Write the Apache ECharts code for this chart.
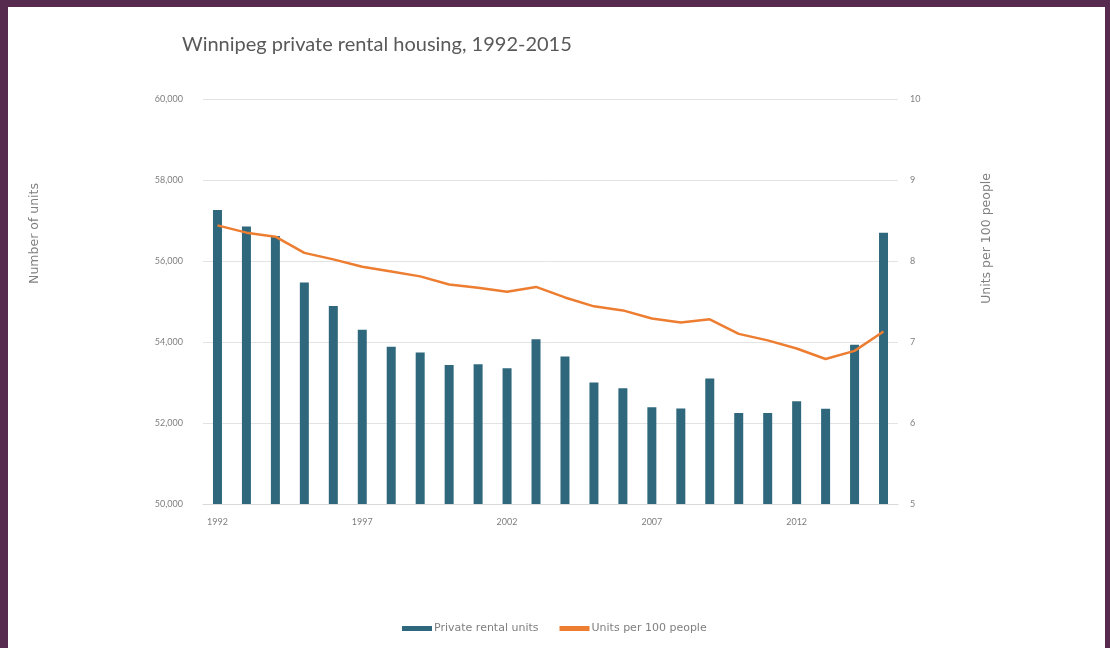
<!DOCTYPE html>
<html>
<head>
<meta charset="utf-8">
<script src="https://cdn.jsdelivr.net/npm/echarts@6/dist/echarts.min.js"></script>
<style>
html,body{margin:0;padding:0;background:#572a50;}
#wrap{position:absolute;left:8px;top:7px;width:1097px;height:641px;background:#fff;}
#chart{position:absolute;left:-8px;top:-7px;width:1110px;height:648px;}
</style>
</head>
<body>
<div id="wrap"><div id="chart"></div></div>
<script>
const years = ['1992','1993','1994','1995','1996','1997','1998','1999','2000','2001','2002','2003','2004','2005','2006','2007','2008','2009','2010','2011','2012','2013','2014','2015'];
const rentalUnits = [57260,56850,56620,55470,54890,54300,53880,53740,53430,53450,53350,54070,53640,53000,52860,52390,52360,53100,52250,52250,52540,52350,53930,56700];
const unitsPer100 = [8.44,8.35,8.30,8.10,8.02,7.93,7.87,7.81,7.71,7.67,7.62,7.68,7.55,7.44,7.39,7.29,7.24,7.28,7.10,7.02,6.92,6.79,6.89,7.13];
const leftTicks = {min:50000, max:60000, interval:2000};
const rightTicks = {min:5, max:10, interval:1};

const chart = echarts.init(document.getElementById('chart'), null, {renderer:'canvas'});
const font = 'Lato, "Open Sans", sans-serif';
const wide = '"DejaVu Sans", sans-serif';
chart.setOption({
  backgroundColor:'transparent',
  animation:false,
  title:{text:'Winnipeg private rental housing, 1992-2015', left:177, top:30,
    textStyle:{fontFamily:font, fontSize:20, fontWeight:'normal', color:'#595959'}},
  grid:{left:203, right:212, top:99, bottom:144},
  legend:{top:623, left:402, padding:0, itemGap:21, itemWidth:30, itemHeight:5,
    textStyle:{fontFamily:wide, fontSize:11, color:'#7f7f7f', padding:[0,0,0,-3]},
    data:[{name:'Private rental units', icon:'rect'},{name:'Units per 100 people', icon:'rect', itemStyle:{color:'#ed7d31'}}]},
  xAxis:{type:'category', data:years, axisTick:{show:false},
    axisLine:{show:true, lineStyle:{color:'#d9d9d9'}},
    axisLabel:{interval:4, color:'#7f7f7f', fontFamily:font, fontSize:9, margin:14}},
  yAxis:[
    {type:'value', min:leftTicks.min, max:leftTicks.max, interval:leftTicks.interval,
     axisLabel:{formatter:v=>v.toLocaleString('en-US'), color:'#7f7f7f', fontFamily:font, fontSize:9, margin:20},
     splitLine:{lineStyle:{color:'#e3e3e3'}}, axisLine:{show:false}, axisTick:{show:false}},
    {type:'value', min:rightTicks.min, max:rightTicks.max, interval:rightTicks.interval,
     axisLabel:{color:'#7f7f7f', fontFamily:font, fontSize:9, margin:12},
     splitLine:{show:false}, axisLine:{show:false}, axisTick:{show:false}}
  ],
  graphic:[
    {type:'text', left:28, top:183, rotation:Math.PI/2, style:{text:'Number of units', fill:'#7f7f7f', font:'12.5px '+wide}},
    {type:'text', left:980, top:173, rotation:Math.PI/2, style:{text:'Units per 100 people', fill:'#7f7f7f', font:'12.5px '+wide}}
  ],
  series:[
    {name:'Private rental units', type:'bar', data:rentalUnits, barWidth:9, itemStyle:{color:'#2f687c'}},
    {name:'Units per 100 people', type:'line', yAxisIndex:1, data:unitsPer100, symbol:'none',
     lineStyle:{color:'#ed7d31', width:2.5}, itemStyle:{color:'#ed7d31'}}
  ]
});
</script>
</body>
</html>
